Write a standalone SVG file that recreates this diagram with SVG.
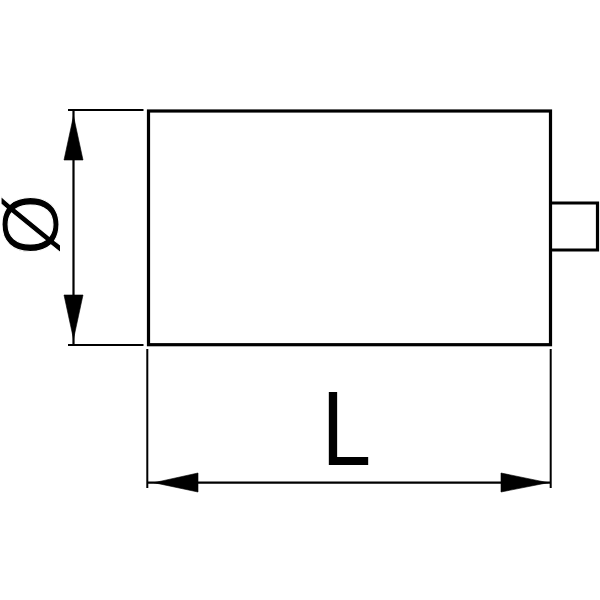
<svg xmlns="http://www.w3.org/2000/svg" width="600" height="600" viewBox="0 0 600 600">
<style>
.body{fill:none;stroke:#000;stroke-width:3.2;stroke-linejoin:miter}
.ext{fill:none;stroke:#000;stroke-width:2}
.dim{fill:none;stroke:#000;stroke-width:2.2}
.head{fill:#000;stroke:#000;stroke-width:.6}
.lab{font-family:"Liberation Sans",Arial,sans-serif;fill:#000}
</style>
<rect width="600" height="600" fill="#fff"/>
<g id="body"><rect class="body" x="148.5" y="111" width="402" height="233.7"/></g>
<g id="tab"><path class="body" d="M550.5 203H597.5V250H550.5"/></g>
<g id="connectors">
<path class="ext" d="M68 110H143.5M68 345H143.5M147.3 349V488M550.7 349V488"/>
<path class="dim" d="M73.5 110V345M148 482.7H550"/>
<polygon class="head" points="73.5,116 83,160 64,160"/>
<polygon class="head" points="73.5,339 83,295 64,295"/>
<polygon class="head" points="154,482.7 198,473 198,492"/>
<polygon class="head" points="548,482.7 501,473 501,492"/>
</g>
<g id="label-diameter"><text class="lab" transform="translate(30.5,224.5) rotate(-90)" y="27" text-anchor="middle" font-size="79" stroke="#fff" stroke-width="1">Ø</text></g>
<g id="label-length"><text class="lab" transform="translate(321.5,465) scale(0.85,1)" font-size="105">L</text></g>
</svg>
